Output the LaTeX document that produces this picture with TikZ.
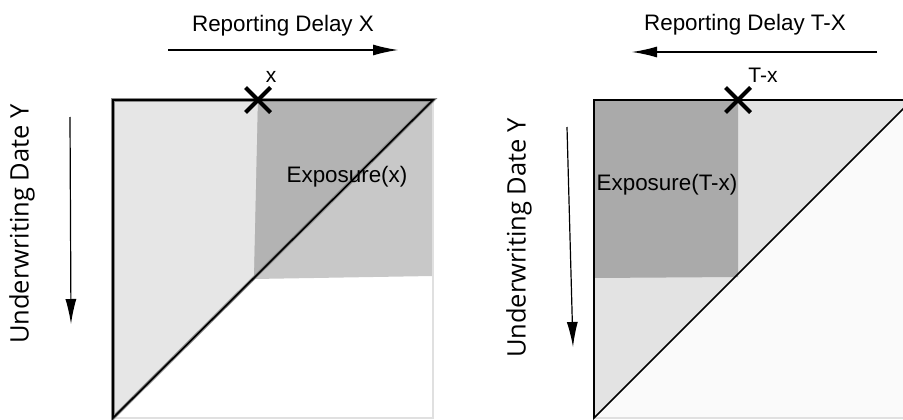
\documentclass[tikz,border=0pt]{standalone}
\usepackage{fontspec}
\setmainfont{Liberation Sans}
\newfontfamily\axisfont{Open Sans}
\usetikzlibrary{arrows.meta,shapes.misc}
\definecolor{triLight}{HTML}{E6E6E6}
\definecolor{triLightR}{HTML}{E3E3E3}
\definecolor{expoDark}{HTML}{B3B3B3}
\definecolor{expoMid}{HTML}{C8C8C8}
\definecolor{expoDarkR}{HTML}{AAAAAA}
\definecolor{lowerFill}{HTML}{FAFAFA}
\definecolor{edgeGrey}{HTML}{E0E0E0}
\definecolor{haloGrey}{HTML}{8A8A8A}
\tikzset{
  toplabel/.style={font=\fontsize{22.4}{26}\selectfont, inner sep=0pt, anchor=base},
  marklabel/.style={font=\fontsize{21}{24}\selectfont, inner sep=0pt, anchor=base},
  sidelabel/.style={font=\axisfont\fontsize{25.5}{30}\selectfont, inner sep=0pt, rotate=90},
  xmark/.style={cross out, draw=black, line width=4pt, minimum size=21pt, inner sep=0pt},
  dirarrow/.style={-{Latex[length=25pt,width=11pt]}, line width=1.2pt, draw=black},
  softedge/.style={draw=edgeGrey, line width=1.5pt},
  heavyedge/.style={draw=black, line width=1.6pt, line join=miter},
  haloedge/.style={draw=haloGrey, line width=3.6pt, line join=miter},
}
\begin{document}
\begin{tikzpicture}[x=1pt,y=-1pt]
  \useasboundingbox (0,0) rectangle (903,420);

  % --- left panel: reporting delay x ---
  \coordinate (la) at (113,100);
  \coordinate (lb) at (433,100);
  \coordinate (lc) at (433,418);
  \coordinate (ld) at (113,418);
  \fill[triLight] (la) -- (lb) -- (ld) -- cycle;
  \fill[expoMid] (258,100) -- (lb) -- (433,276) -- (254,279) -- cycle;
  \fill[expoDark] (258,100) -- (lb) -- (254,279) -- cycle;
  \draw[softedge] (lb) -- (lc) -- (ld);
  \draw[haloedge] (ld) -- (la) -- (lb) -- cycle;
  \draw[heavyedge] (ld) -- (la) -- (lb) -- cycle;

  \node[xmark] (lmark) at (258,100) {};
  \node[marklabel] (lx) at (271,82) {x};
  \node[toplabel] (lexpo) at (347,182) {Exposure(x)};

  \node[toplabel] (ldelay) at (283,32) {Reporting Delay X};
  \coordinate (ldelayS) at (168,50);
  \coordinate (ldelayE) at (398,50);
  \draw[dirarrow] (ldelayS) -- (ldelayE);

  \node[sidelabel] (luw) at (22,224) {Underwriting Date Y};
  \coordinate (luwS) at (70,117);
  \coordinate (luwE) at (71,324);
  \draw[dirarrow] (luwS) -- (luwE);

  % --- right panel: reporting delay T-x ---
  \coordinate (ra) at (594,100);
  \coordinate (rb) at (912,100);
  \coordinate (rc) at (912,418);
  \coordinate (rd) at (594,418);
  \begin{scope}
    \clip (580,90) rectangle (903,420);
    \fill[lowerFill] (rb) -- (rc) -- (rd) -- cycle;
    \fill[triLightR] (ra) -- (rb) -- (rd) -- cycle;
    \fill[expoDarkR] (ra) -- (738,100) -- (738,277) -- (594,278) -- cycle;
    \draw[softedge] (rc) -- (rd);
    \draw[heavyedge] (rd) -- (ra) -- (rb) -- cycle;
  \end{scope}

  \node[xmark] (rmark) at (738,100) {};
  \node[marklabel] (rx) at (763,82) {T-x};
  \node[toplabel] (rexpo) at (667,190) {Exposure(T-x)};

  \node[toplabel] (rdelay) at (745,31) {Reporting Delay T-X};
  \coordinate (rdelayS) at (877,52);
  \coordinate (rdelayE) at (632,52);
  \draw[dirarrow] (rdelayS) -- (rdelayE);

  \node[sidelabel] (ruw) at (519,238) {Underwriting Date Y};
  \coordinate (ruwS) at (567,127);
  \coordinate (ruwE) at (573,347);
  \draw[dirarrow] (ruwS) -- (ruwE);
\end{tikzpicture}
\end{document}
